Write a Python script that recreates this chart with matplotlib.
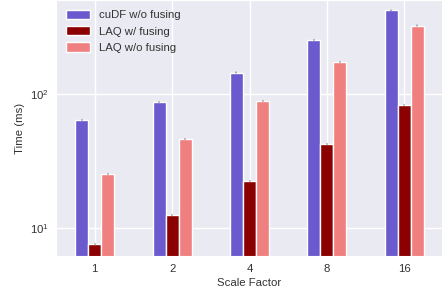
import matplotlib
matplotlib.use("Agg")
import matplotlib.pyplot as plt
import numpy as np
import seaborn as sns

categories = ["1", "2", "4", "8", "16"]
series_names = ["cuDF w/o fusing", "LAQ w/ fusing", "LAQ w/o fusing"]
cudf_nofuse = [64.1, 87.5, 144.5, 255, 422]
laq_fuse = [7.55, 12.4, 22.4, 42.4, 83.2]
laq_nofuse = [25.3, 46.2, 89.1, 174.7, 325]
cudf_err = [0.2, 0.3, 0.4, 0.5, 0.8]
laq_fuse_err = [0.02, 0.02, 0.03, 0.05, 0.1]
laq_nofuse_err = [0.08, 0.1, 0.2, 0.3, 0.6]
colors = ["#6A5ACD", "#8B0000", "#F08080"]

sns.set_style("darkgrid")
plt.rcParams['font.family'] = ['Liberation Sans', 'DejaVu Sans']
plt.rcParams['mathtext.fontset'] = 'custom'
plt.rcParams['mathtext.rm'] = 'Liberation Sans'
plt.rcParams['mathtext.it'] = 'Liberation Sans:italic'

FS = 8.2
fig = plt.figure(figsize=(4.42, 2.96), dpi=100)
ax = fig.add_axes([56/442, 40/296, 387/442, 256/296])

x = np.arange(len(categories))
w = 0.168
data = [cudf_nofuse, laq_fuse, laq_nofuse]
errs = [cudf_err, laq_fuse_err, laq_nofuse_err]
for i, (vals, err) in enumerate(zip(data, errs)):
    ax.bar(x + (i - 1) * w, vals, w, color=colors[i], label=series_names[i],
           yerr=err, error_kw=dict(ecolor="#666666", elinewidth=0.3, capsize=0.8, capthick=0.3),
           zorder=2)

ax.set_yscale("log")
ax.set_ylim(6.14, 505)
ax.set_xlim(-0.5, 4.5)
ax.set_xticks(x)
ax.set_xticklabels(categories)
ax.tick_params(axis='both', labelsize=FS, colors="#333333", pad=2)
ax.yaxis.set_minor_locator(matplotlib.ticker.NullLocator())
ax.set_xlabel("Scale Factor", fontsize=FS, color="#333333", labelpad=3)
ax.set_ylabel("Time (ms)", fontsize=FS, color="#333333", labelpad=3)
ax.grid(True, color="white", linewidth=1.0, zorder=0)
ax.set_axisbelow(True)
leg = ax.legend(loc="upper left", frameon=False, fontsize=FS, handlelength=2.1,
                handleheight=0.85, handletextpad=0.8, borderaxespad=0.45,
                labelspacing=0.52)
for t in leg.get_texts():
    t.set_color("#333333")

fig.savefig("out.png", dpi=100)
